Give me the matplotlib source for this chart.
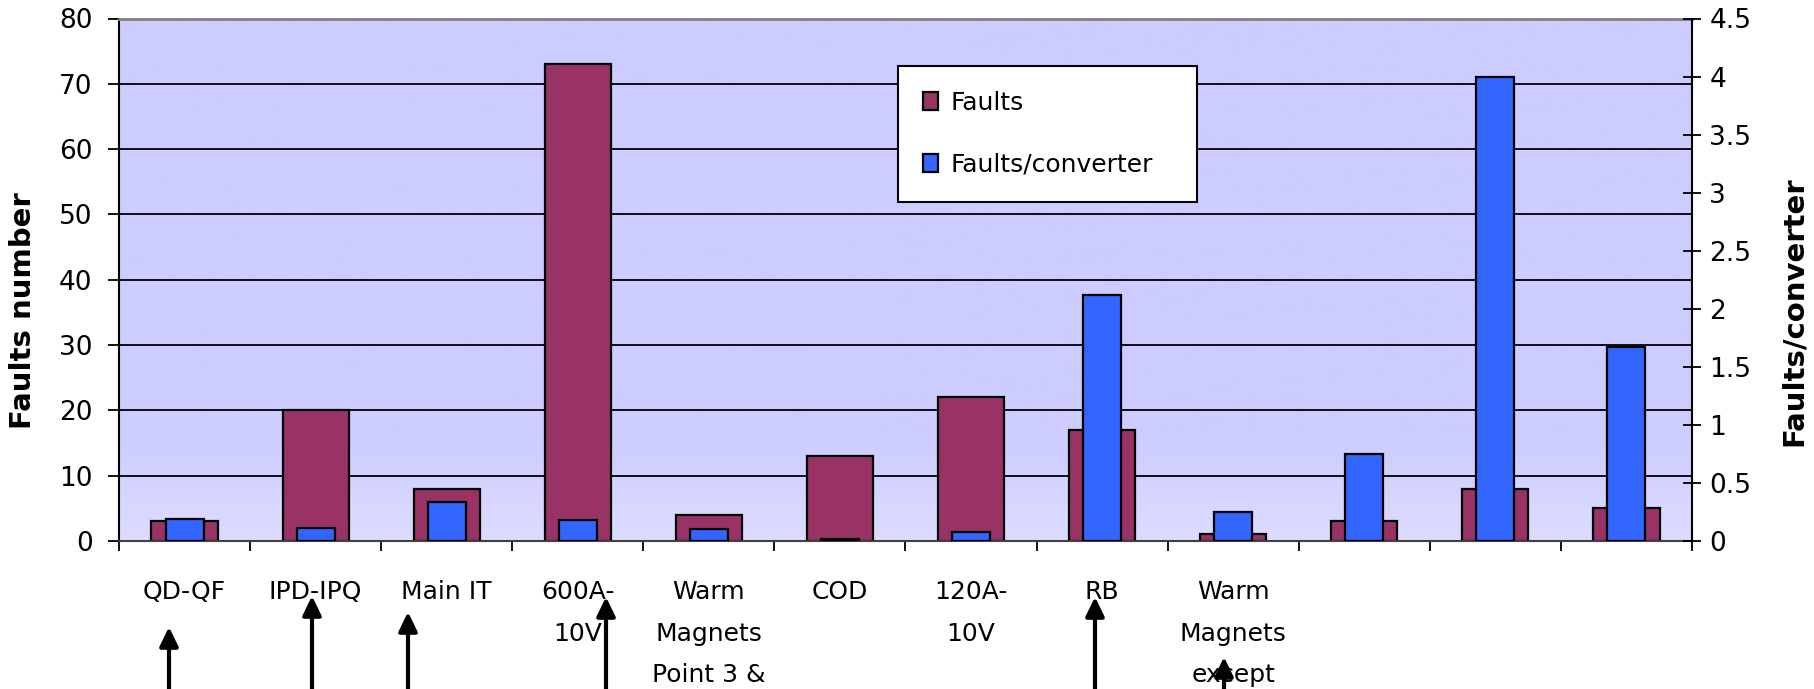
import numpy as np
import matplotlib
matplotlib.use("Agg")
import matplotlib.pyplot as plt
from matplotlib.patches import FancyArrowPatch
from matplotlib.colors import to_rgb

plt.rcParams['font.family'] = ['DejaVu Sans']

# ---------------- data ----------------
categories = ["QD-QF", "IPD-IPQ", "Main IT", "600A-\n10V", "Warm\nMagnets\nPoint 3 &",
              "COD", "120A-\n10V", "RB", "Warm\nMagnets\nexcept", "", "", ""]
faults = [3, 20, 8, 73, 4, 13, 22, 17, 1, 3, 8, 5]
faults_per_converter = [0.1875, 0.115, 0.333, 0.1825, 0.10, 0.015, 0.08, 2.12, 0.25, 0.75, 4.0, 1.67]
left_ticks = [0, 10, 20, 30, 40, 50, 60, 70, 80]
right_ticks = [0, 0.5, 1, 1.5, 2, 2.5, 3, 3.5, 4, 4.5]
right_tick_labels = ["0", "0.5", "1", "1.5", "2", "2.5", "3", "3.5", "4", "4.5"]
series_names = ["Faults", "Faults/converter"]

# ---------------- figure ----------------
W, H = 1814, 689
fig = plt.figure(figsize=(W / 100, H / 100), dpi=100)
ax_l, ax_r, ax_b, ax_t = 119, 1692, 541, 18.5
ax = fig.add_axes([ax_l / W, 1 - ax_b / H, (ax_r - ax_l) / W, (ax_b - ax_t) / H])
ax2 = ax.twinx()

maroon = "#993366"
blue = "#3366FF"

# background gradient
top_c = np.array(to_rgb("#CCCCFF"))
bot_c = np.array(to_rgb("#DCDCFF"))
t = np.linspace(0, 1, 200)[:, None]
w = np.clip((t - 0.8) / 0.2, 0, 1)
grad = (top_c[None, :] * (1 - w) + bot_c[None, :] * w)[:, None, :]
ax.imshow(grad, extent=[0, 1, 0, 1], transform=ax.transAxes, aspect='auto',
          origin='upper', zorder=0)

x = np.arange(len(categories))
ax.bar(x, faults, width=0.505, color=maroon, edgecolor='black', linewidth=1.6,
       zorder=2, label=series_names[0])
ax2.bar(x, faults_per_converter, width=0.29, color=blue, edgecolor='black',
        linewidth=1.6, zorder=2, label=series_names[1])

ax.set_xlim(-0.5, len(categories) - 0.5)
ax.set_ylim(0, 80)
ax2.set_ylim(0, 4.5)

# grid
for v in left_ticks[1:-1]:
    ax.axhline(v, color='black', lw=1.3, zorder=1)

# ticks
ax.set_yticks(left_ticks)
ax.tick_params(axis='y', direction='out', length=8, width=1.3, labelsize=19, pad=11)
ax2.set_yticks(right_ticks)
ax2.set_yticklabels(right_tick_labels)
ax2.tick_params(axis='y', direction='inout', length=13, width=1.3, labelsize=19, pad=6)

ax.set_xticks(x)
ax.set_xticklabels(categories, fontsize=18)
ax.tick_params(axis='x', which='major', length=0, pad=28)
for lab in ax.get_xticklabels():
    lab.set_linespacing(1.93)
ax.set_xticks(np.arange(-0.5, len(categories), 1), minor=True)
ax.tick_params(axis='x', which='minor', direction='out', length=7, width=1.3)

# spines
ax.spines['top'].set_color('#808080')
ax.spines['top'].set_linewidth(2)
ax.spines['bottom'].set_color('#404040')
ax.spines['bottom'].set_linewidth(1.5)
ax.spines['left'].set_linewidth(1.5)
ax.spines['right'].set_visible(False)
ax2.spines['right'].set_linewidth(1.5)
for s in ['top', 'bottom', 'left']:
    ax2.spines[s].set_visible(False)

# axis labels
ax.set_ylabel("Faults number", fontsize=21, fontweight='bold')
ax.yaxis.label.set_va('center')
ax.yaxis.set_label_coords((23 - ax_l) / (ax_r - ax_l), 0.44)
ax2.set_ylabel("Faults/converter", fontsize=21, fontweight='bold', rotation=90)
ax2.yaxis.label.set_va('center')
ax2.yaxis.set_label_coords((1794 - ax_l) / (ax_r - ax_l), 0.44)

# legend
h1, l1 = ax.get_legend_handles_labels()
h2, l2 = ax2.get_legend_handles_labels()
leg = ax2.legend(h1 + h2, l1 + l2, loc='upper left',
                 bbox_to_anchor=(0.495, 0.66, 0.19, 0.249), mode='expand',
                 fontsize=18, frameon=True, fancybox=False, framealpha=1,
                 edgecolor='black', borderpad=1.0, labelspacing=1.5,
                 handlelength=0.6, handleheight=0.75, handletextpad=0.5,
                 borderaxespad=0)
leg.get_frame().set_linewidth(1.5)
leg.set_zorder(5)

# arrows below the axis (figure pixel positions: x, tip y)
arrows = [(169, 627), (312, 596), (408, 612), (606, 597), (1095, 597), (1224, 657)]
for ax_px, tip_y in arrows:
    arr = FancyArrowPatch((ax_px / W, 1 - 720 / H), (ax_px / W, 1 - tip_y / H),
                          transform=fig.transFigure, arrowstyle='-|>,head_length=11.5,head_width=5.6',
                          mutation_scale=1, lw=3, color='black', shrinkA=0, shrinkB=0)
    fig.add_artist(arr)

fig.savefig("out.png", dpi=100)
